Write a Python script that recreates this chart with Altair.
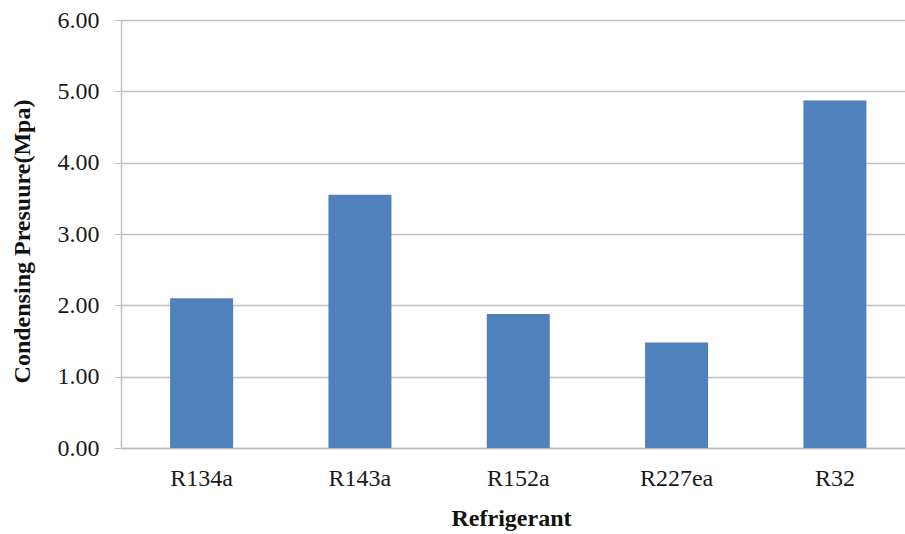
import altair as alt
import pandas as pd

# Condensing pressure for each refrigerant (MPa)
refrigerants = ["R134a", "R143a", "R152a", "R227ea", "R32"]
pressures = [2.10, 3.55, 1.88, 1.48, 4.87]

df = pd.DataFrame({"Refrigerant": refrigerants, "Pressure": pressures})

FONT = "Liberation Serif"
GRID = "#bfbfbf"

chart = (
    alt.Chart(df)
    .mark_bar(color="#4f81bd")
    .encode(
        x=alt.X(
            "Refrigerant:N",
            sort=refrigerants,
            scale=alt.Scale(paddingInner=0.602, paddingOuter=0.277, align=0.56),
            axis=alt.Axis(
                title="Refrigerant",
                labelAngle=0,
                ticks=False,
                labelPadding=18,
                labelFontSize=24,
                labelFont=FONT,
                labelColor="#1a1a1a",
                titleFont=FONT,
                titleFontSize=24,
                titleFontWeight="bold",
                titleColor="#111111",
                titleX=390,
                titleY=70,
                titleBaseline="middle",
                domainColor=GRID,
                domainWidth=1.5,
            ),
        ),
        y=alt.Y(
            "Pressure:Q",
            scale=alt.Scale(domain=[0, 6], nice=False),
            axis=alt.Axis(
                title="Condensing Presuure(Mpa)",
                values=[0, 1, 2, 3, 4, 5, 6],
                format=".2f",
                tickSize=7,
                tickColor=GRID,
                labelPadding=15,
                labelFontSize=24,
                labelFont=FONT,
                labelColor="#1a1a1a",
                titleFont=FONT,
                titleFontSize=24,
                titleFontWeight="bold",
                titleColor="#111111",
                titleAngle=-90,
                titleX=-99,
                titleY=221,
                titleBaseline="middle",
                titleAlign="center",
                grid=True,
                gridColor=GRID,
                gridWidth=1.3,
                domainColor=GRID,
                domainWidth=1.5,
            ),
        ),
    )
    .properties(
        width=784,
        height=428,
        autosize=alt.AutoSizeParams(type="none"),
        padding={"left": 121, "top": 20, "right": 0, "bottom": 86},
    )
    .configure_view(strokeWidth=0)
    .configure(background="white")
)

chart.save("out.html", embed_options={"renderer": "svg", "actions": False})
